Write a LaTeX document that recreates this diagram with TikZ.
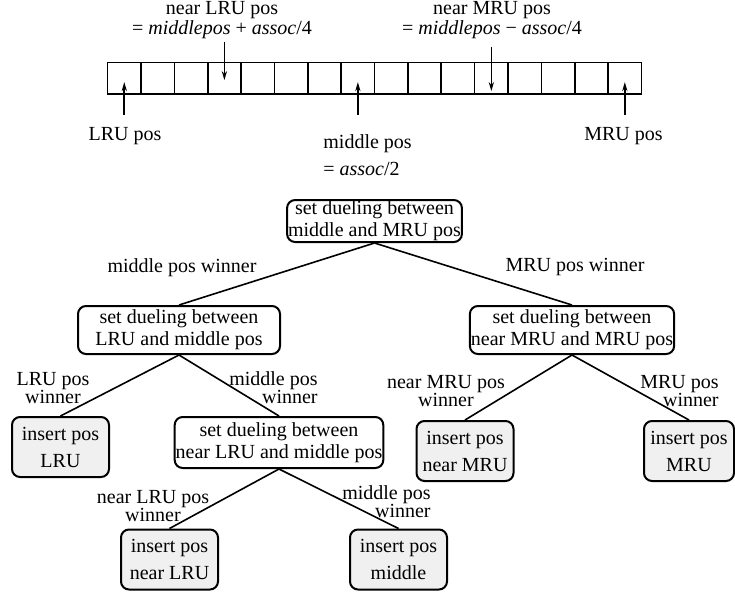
\documentclass[tikz,border=0pt]{standalone}
\usepackage{fontspec}
\setmainfont{Liberation Serif}
\usetikzlibrary{arrows.meta}

\begin{document}
\begin{tikzpicture}[
    x=0.5pt, y=-0.5pt,
    every node/.style={font=\fontsize{10}{11}\selectfont, inner sep=0pt},
    duelbox/.style={draw, line width=1pt, rounded corners=4pt, align=center, minimum width=101pt, minimum height=24pt, inner xsep=0.5pt},
    insbox/.style={draw, line width=1pt, rounded corners=4pt, fill=black!6, align=center, minimum width=48.5pt, minimum height=30pt, font=\fontsize{10}{13.5}\selectfont},
    winlabel/.style={font=\fontsize{10}{9}\selectfont},
    cell/.style={draw, line width=0.8pt, minimum width=16.68pt, minimum height=15.7pt},
    ptr/.style={-{Stealth[length=4.5pt, width=2.6pt]}, line width=0.8pt},
    branch/.style={line width=0.8pt}
]
\useasboundingbox (0,0) rectangle (735,596);

% recency stack
\foreach \i in {1,...,16}
    \node[cell] (c\i) at ({107.6+(\i-0.5)*33.37}, 78.1) {};

\node[align=center, font=\fontsize{10}{8.5}\selectfont] (nlrutxt) at (222, 20.5) {near LRU pos\\= \textit{middlepos} + \textit{assoc}/4};
\node[align=center, font=\fontsize{10}{8.5}\selectfont] (nmrutxt) at (492, 20.5) {near MRU pos\\= \textit{middlepos} − \textit{assoc}/4};
\node (lrutxt) at (125, 136) {LRU pos};
\node[align=left, anchor=west, font=\fontsize{10}{13.4}\selectfont] (midtxt) at (323, 155) {middle pos\\= \textit{assoc}/2};
\node (mrutxt) at (623.5, 136) {MRU pos};

\draw[ptr] ([yshift=-18.5pt]c1.center) -- ([yshift=-2pt]c1.center);
\draw[ptr] ([yshift=18pt]c4.center) -- ([yshift=-1pt]c4.center);
\draw[ptr] ([yshift=-18.5pt]c8.center) -- ([yshift=-2pt]c8.center);
\draw[ptr] ([yshift=15.5pt]c12.center) -- ([yshift=-6.5pt]c12.center);
\draw[ptr] ([yshift=-18.5pt]c16.center) -- ([yshift=-2pt]c16.center);

% decision tree
\node[duelbox, minimum width=0pt, minimum height=21pt] (root) at (374.5, 221) {set dueling between\\middle and MRU pos};
\node[duelbox] (lrumid) at (179, 330) {set dueling between\\LRU and middle pos};
\node[duelbox] (nmrumru) at (572, 330) {set dueling between\\near MRU and MRU pos};
\node[duelbox, minimum height=25.5pt] (nlrumid) at (279, 442.5) {set dueling between\\near LRU and middle pos};

\node[insbox] (inslru) at (60.5, 447) {insert pos\\LRU};
\node[insbox] (insnmru) at (465, 451) {insert pos\\near MRU};
\node[insbox, minimum width=45pt] (insmru) at (689, 451) {insert pos\\MRU};
\node[insbox] (insnlru) at (169.5, 559.5) {insert pos\\near LRU};
\node[insbox] (insmid) at (398.5, 559.5) {insert pos\\middle};

\draw[branch] (root.south) -- (lrumid.north);
\draw[branch] (root.south) -- (nmrumru.north);
\draw[branch] (lrumid.south) -- (inslru.north);
\draw[branch] (lrumid.south) -- (nlrumid.north);
\draw[branch] (nmrumru.south) -- (insnmru.north);
\draw[branch] (nmrumru.south) -- (insmru.north);
\draw[branch] (nlrumid.south) -- (insnlru.north);
\draw[branch] (nlrumid.south) -- (insmid.north);

\node (midwin) at (182, 268) {middle pos winner};
\node (mruwin) at (575, 267) {MRU pos winner};
\node[winlabel, align=center] (lruwin2) at (53, 388) {LRU pos\\winner};
\node[winlabel, align=right, anchor=east] (midwin2) at (318, 388) {middle pos\\winner};
\node[winlabel, align=center] (nmruwin) at (446, 391) {near MRU pos\\winner};
\node[winlabel, align=right, anchor=east] (mruwin2) at (719, 391) {MRU pos\\winner};
\node[winlabel, align=center] (nlruwin) at (153, 506) {near LRU pos\\winner};
\node[winlabel, align=right, anchor=east] (midwin3) at (431, 501.5) {middle pos\\winner};
\end{tikzpicture}
\end{document}
